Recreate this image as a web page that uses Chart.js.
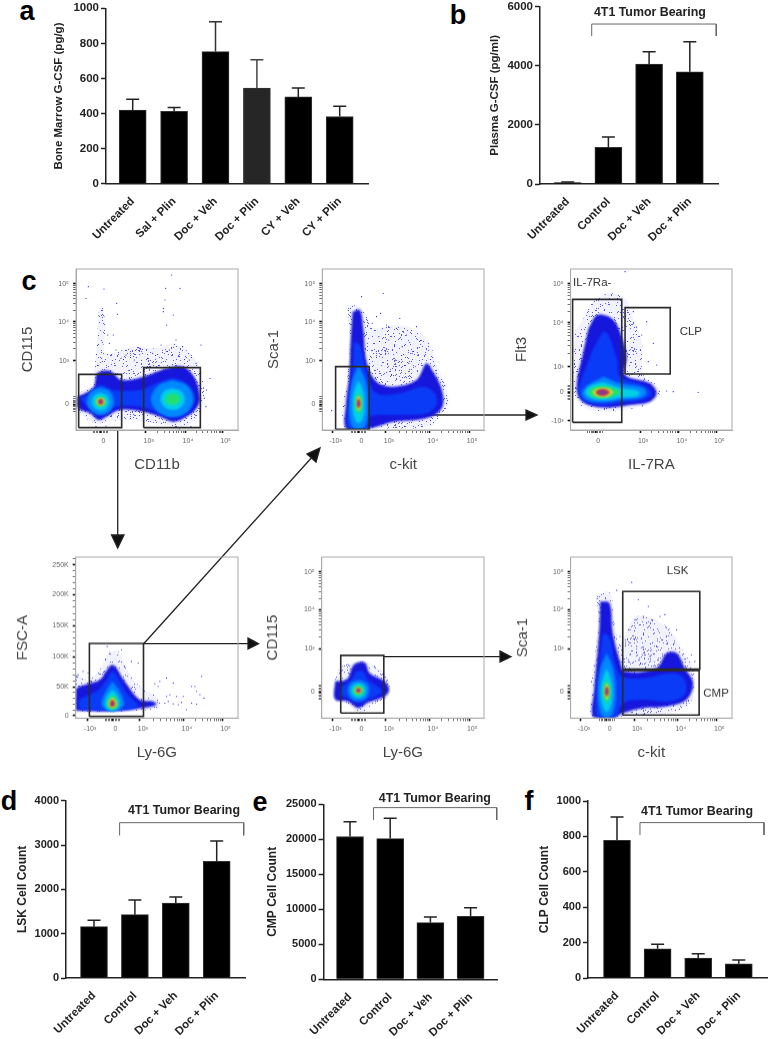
<!DOCTYPE html>
<html>
<head>
<meta charset="utf-8">
<title>G-CSF and progenitor panels</title>
<script src="https://cdn.jsdelivr.net/npm/chart.js@4"></script>
<style>
  body { margin: 0; background: #fff; font-family: "Liberation Sans", Arial, sans-serif; }
  #page { position: relative; width: 769px; height: 1039px; overflow: hidden; }
  canvas { position: absolute; }
  .letter { position: absolute; font-weight: bold; font-size: 27px; line-height: 27px; color: #000; transform: translate(-50%, -50%); }
  svg { position: absolute; left: 0; top: 0; pointer-events: none; }
</style>
</head>
<body>
<div id="page">
  <div class="letter" style="left:27px;top:11px">a</div>
  <div class="letter" style="left:458px;top:15px">b</div>
  <div class="letter" style="left:29px;top:281px">c</div>
  <div class="letter" style="left:9px;top:801px">d</div>
  <div class="letter" style="left:260px;top:802px">e</div>
  <div class="letter" style="left:529px;top:801px">f</div>
  <svg width="769" height="1039">
    <g stroke="#222" stroke-width="1.3" fill="#111">
      <line x1="117.7" y1="430" x2="117.7" y2="536"/><path d="M111.5 535 L124 535 L117.7 548 Z"/>
      <line x1="143.7" y1="643.7" x2="314" y2="455"/><path d="M307 454 L316 462 L320 448 Z"/>
      <line x1="143.7" y1="643.7" x2="250" y2="643.7"/><path d="M248 638 L248 649 L258.5 643.7 Z"/>
      <line x1="384" y1="656.7" x2="502" y2="656.7"/><path d="M500 651 L500 662 L511 656.7 Z"/>
      <line x1="369" y1="415" x2="528" y2="415"/><path d="M526 410 L526 420 L537 415 Z"/>
    </g>
  </svg>
</div>
<script>
// bar panels
const aCategories = ["Untreated", "Sal + Plin", "Doc + Veh", "Doc + Plin", "CY + Veh", "CY + Plin"];
const aValues = [420, 412, 753, 545, 495, 383];
const aErrTops = [481, 435, 923, 706, 545, 441];

const tumorCategories = ["Untreated", "Control", "Doc + Veh", "Doc + Plin"];
const bValues = [50, 1240, 4060, 3800];
const bErrTops = [70, 1590, 4477, 4815];
const dValues = [1158, 1429, 1692, 2632];
const dErrTops = [1301, 1759, 1827, 3090];
const eValues = [20400, 20100, 8100, 9000];
const eErrTops = [22500, 23000, 8905, 10238];
const fValues = [778, 165, 112, 80];
const fErrTops = [910, 190, 137, 102];

// flow panels: values are display channels (0-486 across, 0-483 up), outlines as x,y pairs
const c1XTicks = [73, 209, 327, 440];
const c1XLabels = ["0", "10³", "10⁴", "10⁵"];
const c1YTicks = [78, 208, 325, 438];
const stdYLabels = ["0", "10³", "10⁴", "10⁵"];
const c1Fringe = [4,100, 22,120, 52,135, 57,195, 64,285, 70,365, 80,370, 88,305, 84,235, 107,230, 172,250, 242,245, 292,260, 342,230, 372,185, 384,115, 377,65, 352,25, 302,5, 272,15, 212,25, 142,30, 92,25, 57,20, 12,55];
const c1Dense = [4,100, 27,110, 54,130, 64,170, 102,177, 137,150, 202,160, 272,185, 322,190, 357,155, 372,95, 362,65, 332,40, 292,25, 252,40, 202,55, 132,60, 92,40, 67,30, 42,50, 7,65];
const c1Bright = [12,95, 42,110, 72,135, 112,120, 192,120, 242,140, 292,155, 337,135, 357,95, 337,55, 292,40, 242,55, 192,70, 122,70, 77,50, 37,70];
const c1LeftSky = [74,128, 102,116, 114,85, 102,56, 74,44, 46,56, 32,85, 46,116];
const c1LeftCyan = [74,112, 92,104, 100,85, 92,66, 74,58, 56,66, 48,85, 56,104];
const c1LeftGreen = [74,101, 85,96, 90,85, 85,74, 74,69, 63,74, 58,85, 63,96];
const c1LeftYellow = [74,97, 83,93, 86,85, 83,77, 74,73, 65,77, 62,85, 65,93];
const c1LeftRed = [74,94, 80,91, 82,85, 80,79, 74,76, 68,79, 66,85, 68,91];
const c1LeftCore = [74,92, 78,89, 80,85, 78,81, 74,78, 70,81, 68,85, 70,89];
const c1RightSky = [290,150, 335,132, 352,92, 335,55, 290,38, 245,55, 225,92, 245,132];
const c1RightCyan = [290,125, 316,116, 326,92, 316,70, 290,60, 264,70, 254,92, 264,116];
const c1RightGreen = [290,110, 306,105, 312,92, 306,80, 290,75, 274,80, 268,92, 274,105];
const c1Dots = [37,430, 84,423, 30,395, 287,465, 269,425, 312,425, 267,390, 262,355, 292,345, 272,315, 122,380, 124,347, 112,285, 402,155, 392,120, 375,255, 262,365, 120,240, 150,225, 190,245, 215,215, 255,255, 280,240, 310,220, 340,210, 360,200, 100,260, 95,285, 135,215, 175,210, 230,230, 300,270, 320,250, 385,95, 390,70, 345,10, 310,3, 60,10, 90,12];
const c1GateLeft = [8,7, 137,7, 137,167, 8,167];
const c1GateRight = [203,7, 373,7, 373,187, 203,187];

const c2XTicks = [31, 109, 191, 323, 441];
const c2XLabels = ["-10³", "0", "10³", "10⁴", "10⁵"];
const c2Fringe = [75,375, 113,370, 138,335, 153,305, 213,315, 283,300, 323,260, 343,195, 373,125, 378,75, 353,45, 333,15, 283,5, 213,5, 143,3, 71,3, 61,75, 75,155, 83,275];
const c2Dense = [91,355, 113,360, 123,305, 133,205, 163,145, 213,130, 283,150, 313,200, 333,175, 358,125, 363,75, 338,45, 283,30, 213,25, 143,5, 73,3, 71,75, 81,165, 85,265];
const c2Bright = [95,265, 113,255, 135,165, 163,110, 233,110, 303,130, 338,110, 343,75, 313,50, 233,45, 143,40, 138,3, 78,3, 81,95, 91,185];
const c2Sky = [109,195, 131,145, 138,80, 131,15, 109,0, 87,15, 81,80, 89,145];
const c2Cyan = [109,150, 123,115, 127,78, 123,40, 109,20, 95,40, 91,78, 95,115];
const c2Green = [109,112, 116,100, 119,80, 116,60, 109,48, 102,60, 99,80, 102,100];
const c2Yellow = [109,102, 114,95, 116,80, 114,65, 109,58, 104,65, 102,80, 104,95];
const c2Red = [109,96, 113,90, 114,80, 113,70, 109,64, 105,70, 104,80, 105,90];
const c2Core = [109,91, 112,87, 113,80, 112,73, 109,69, 106,73, 105,80, 106,87];
const c2Dots = [183,410, 118,400, 163,340, 233,335, 193,315, 223,305, 253,285, 283,310, 28,58, 170,280, 200,270, 240,250, 270,230, 190,230, 220,210, 260,200, 150,320, 175,350];
const c2Gate = [40,2, 141,2, 141,190, 40,190];

const c3XTicks = [74, 209, 326, 439];
const c3YTicks = [28, 113, 190, 322, 438];
const c3YLabels = ["-10³", "0", "10³", "10⁴", "10⁵"];
const c3Fringe = [34,325, 69,385, 119,410, 164,395, 184,345, 214,265, 219,165, 259,135, 269,110, 244,80, 189,65, 119,55, 59,60, 24,80, 9,125, 9,215, 14,295];
const c3Dense = [54,305, 81,345, 129,330, 159,265, 169,215, 164,165, 239,140, 259,110, 239,85, 179,75, 109,67, 54,75, 24,100, 19,145, 34,215];
const c3Bright = [64,235, 104,295, 139,215, 149,160, 219,135, 244,110, 219,90, 159,83, 99,75, 44,85, 24,110, 34,155, 49,195];
const c3Sky = [99,160, 149,140, 219,127, 229,110, 209,95, 149,90, 99,83, 49,90, 34,110, 49,133];
const c3Cyan = [99,143, 149,127, 204,117, 204,103, 149,97, 99,90, 59,97, 44,112, 59,132];
const c3Green = [94,133, 124,127, 154,113, 124,100, 94,95, 64,100, 54,113, 64,127];
const c3Yellow = [96,127, 117,123, 127,113, 117,103, 96,99, 77,103, 67,113, 77,123];
const c3Red = [96,124, 112,120, 119,113, 112,106, 96,102, 81,106, 74,113, 81,120];
const c3Core = [96,121, 107,118, 112,113, 107,108, 96,105, 85,108, 80,113, 85,118];
const c3Dots = [164,475, 384,113, 309,115, 289,117, 229,325, 249,260, 234,205, 259,195, 189,355, 214,285];
const c3GateNeg = [6,23, 154,23, 154,392, 6,392];
const c3GateClp = [164,168, 300,168, 300,367, 164,367];

const c4XTicks = [34, 110, 192, 324, 440];
const c4YTicks = [7, 93, 184, 277, 370, 460];
const c4YLabels = ["0", "50K", "100K", "150K", "200K", "250K"];
const c4YMinors = [25, 43, 61, 79, 111, 129, 147, 165, 202, 221, 240, 258, 295, 314, 333, 351, 388, 406, 424, 442, 478];
const c4Fringe = [0,20, 0,130, 34,115, 72,145, 97,195, 127,200, 157,140, 192,95, 242,65, 252,35, 202,23, 112,19];
const c4Dense = [0,23, 0,85, 37,103, 72,115, 110,160, 147,110, 192,55, 232,50, 242,40, 202,30, 112,21];
const c4Bright = [10,27, 12,55, 62,80, 92,115, 110,140, 130,115, 157,70, 187,35, 112,23];
const c4Sky = [110,110, 132,80, 144,40, 122,23, 97,23, 77,40, 90,80];
const c4Cyan = [110,85, 127,65, 132,40, 122,25, 98,25, 88,40, 94,65];
const c4Green = [110,70, 122,57, 127,42, 119,29, 102,29, 94,42, 99,57];
const c4Yellow = [110,63, 119,53, 122,43, 117,32, 104,32, 98,43, 102,53];
const c4Red = [110,57, 116,49, 118,43, 115,35, 105,35, 102,43, 104,49];
const c4Core = [110,53, 114,48, 115,43, 113,38, 107,38, 105,43, 106,48];
const c4Dots = [272,65, 282,70, 267,45, 277,50, 292,43, 307,40, 322,65, 347,95, 357,95, 362,80, 377,125, 372,70, 384,60, 347,45, 362,42, 332,25, 292,105, 272,120, 237,103, 247,95, 252,110, 302,65, 317,47, 7,130, 22,140, 37,135, 94,215, 137,205, 167,170, 187,165];
const c4Gate = [41,5, 203,5, 203,224, 41,224];

const c5XTicks = [32, 110, 192, 324, 442];
const c5Fringe = [40,115, 54,150, 89,165, 134,168, 174,145, 199,115, 202,70, 184,55, 144,35, 114,10, 79,40, 40,55];
const c5Dense = [40,110, 76,117, 96,160, 129,167, 144,135, 189,110, 202,85, 189,65, 139,47, 109,30, 79,50, 40,57];
const c5Bright = [59,95, 89,115, 104,140, 124,140, 139,115, 174,90, 179,75, 139,57, 109,45, 79,60, 54,70];
const c5Sky = [110,115, 133,106, 142,83, 133,60, 110,51, 87,60, 78,83, 87,106];
const c5Cyan = [110,105, 126,99, 132,83, 126,67, 110,61, 94,67, 88,83, 94,99];
const c5Green = [110,98, 121,94, 125,83, 121,72, 110,68, 99,72, 95,83, 99,94];
const c5Yellow = [110,93, 117,90, 120,83, 117,76, 110,73, 103,76, 100,83, 103,90];
const c5Red = [110,90, 115,88, 117,83, 115,78, 110,76, 105,78, 103,83, 105,88];
const c5Core = [110,88, 114,87, 115,83, 114,79, 110,78, 106,79, 105,83, 106,87];
const c5Gate = [57,15, 186,15, 186,188, 57,188];

const c6XTicks = [31, 109, 191, 323, 439];
const c6Fringe = [77,370, 119,375, 131,295, 149,225, 199,305, 289,275, 329,215, 364,160, 374,105, 359,45, 299,15, 219,10, 159,5, 69,2, 59,65, 74,195, 84,295];
const c6Dense = [89,350, 117,345, 127,255, 149,170, 164,140, 259,150, 289,195, 319,195, 344,150, 369,105, 349,55, 289,35, 219,30, 159,15, 129,2, 69,2, 71,85, 81,195, 87,275];
const c6Bright = [97,255, 117,245, 134,165, 154,125, 219,120, 309,135, 344,115, 344,70, 299,50, 219,55, 159,45, 134,2, 81,2, 77,75, 87,165];
const c6Sky = [109,195, 128,150, 136,80, 128,15, 109,0, 90,15, 82,80, 90,150];
const c6Cyan = [109,150, 122,115, 127,80, 122,40, 109,18, 96,40, 91,80, 96,115];
const c6Green = [109,115, 116,100, 119,80, 116,58, 109,45, 102,58, 99,80, 102,100];
const c6Yellow = [109,104, 114,95, 116,80, 114,65, 109,56, 104,65, 102,80, 104,95];
const c6Red = [109,97, 113,90, 114,80, 113,70, 109,63, 105,70, 104,80, 105,90];
const c6Core = [109,92, 112,87, 113,80, 112,73, 109,68, 106,73, 105,80, 106,87];
const c6Dots = [184,407, 139,383, 204,355, 234,335, 194,295, 219,305, 229,285, 179,265, 249,265, 269,305, 284,310, 319,265, 199,215, 259,215, 179,190, 239,185, 364,190, 374,170, 149,245];
const c6GateLsk = [157,147, 389,147, 389,380, 157,380];
const c6GateCmp = [157,9, 387,9, 387,143, 157,143];

const stdYTicks = [78, 208, 325, 438];
const zeroBlob = [-22, -17, -12, -8, -4, 0, 4, 8, 12, 17, 22];
const levelColors = [null, "#1616dc", "#0a3cf8", "#0088ff", "#00d0e8", "#22e070", "#e6e622", "#d83c3c", "#7c3c94"];

const page = document.getElementById("page");

// grainy fill for the thin outer edge of a population
function speckle() {
  const size = 61;
  const tile = document.createElement("canvas");
  tile.width = tile.height = size;
  const ctx = tile.getContext("2d");
  ctx.fillStyle = "rgba(90,90,235,0.08)";
  ctx.fillRect(0, 0, size, size);
  ctx.fillStyle = "rgba(25,25,215,0.7)";
  for (let i = 1; i <= 300; i++) {
    ctx.fillRect(Math.floor((i * i * 0.0137 + i * 0.754877) % 1 * size), Math.floor((i * i * 0.0291 + i * 0.56984) % 1 * size), 1, 1);
  }
  return ctx.createPattern(tile, "repeat");
}
levelColors[0] = speckle();

function makeCanvas(box) {
  const canvas = document.createElement("canvas");
  canvas.width = box.width;
  canvas.height = box.height;
  canvas.style.left = box.left + "px";
  canvas.style.top = box.top + "px";
  canvas.style.width = box.width + "px";
  canvas.style.height = box.height + "px";
  page.appendChild(canvas);
  return canvas;
}

function pairs(flat) {
  const out = [];
  for (let i = 0; i < flat.length; i += 2) out.push({ x: flat[i], y: flat[i + 1] });
  return out;
}

// forces the plot area to the wanted place
function fixWidth(w) {
  return scale => { scale.width = w; scale.paddingLeft = scale.paddingRight = scale.paddingTop = scale.paddingBottom = 0; };
}
function fixHeight(h) {
  return scale => { scale.height = h; scale.paddingLeft = scale.paddingRight = scale.paddingTop = scale.paddingBottom = 0; };
}

const notesPlugin = {
  id: "notes",
  afterDraw(chart) {
    const notes = chart.config.options.noteList || [];
    const ctx = chart.ctx;
    ctx.save();
    ctx.textAlign = "center";
    ctx.textBaseline = "middle";
    notes.forEach(n => {
      ctx.font = n.font;
      ctx.fillStyle = n.color;
      ctx.fillText(n.text, chart.scales.x.getPixelForValue(n.x), chart.scales.y.getPixelForValue(n.y));
    });
    ctx.restore();
  }
};

const errorBars = {
  id: "errorBars",
  afterDatasetsDraw(chart) {
    const ctx = chart.ctx;
    const { x, y } = chart.scales;
    const ds = chart.data.datasets[0];
    ctx.save();
    ds.errTops.forEach((top, i) => {
      const px = x.getPixelForValue(i);
      const py = y.getPixelForValue(top);
      ctx.strokeStyle = ds.errColors ? ds.errColors[i] : "#222";
      ctx.lineWidth = 1.5;
      ctx.beginPath();
      ctx.moveTo(px, y.getPixelForValue(ds.data[i].y));
      ctx.lineTo(px, py);
      ctx.moveTo(px - 6.5, py);
      ctx.lineTo(px + 6.5, py);
      ctx.stroke();
    });
    ctx.restore();
  }
};

function barPanel(cfg) {
  const p = cfg.plot, box = cfg.box;
  const center = cfg.firstBar, gap = cfg.barGap;
  const datasets = [{
    type: "bar",
    data: cfg.values.map((v, i) => ({ x: i, y: v })),
    errTops: cfg.errTops,
    errColors: cfg.errColors,
    backgroundColor: cfg.barColors || "#000",
    borderColor: "#333",
    borderWidth: 1,
    barThickness: 27
  }];
  if (cfg.bracket) {
    const b = cfg.bracket;
    datasets.push({
      type: "line",
      data: [{ x: b[0], y: b[3] }, { x: b[0], y: b[2] }, { x: b[1], y: b[2] }, { x: b[1], y: b[3] }],
      borderColor: "#666",
      borderWidth: 1,
      pointRadius: 0,
      tension: 0,
      clip: false
    });
  }
  new Chart(makeCanvas(box), {
    data: { datasets },
    plugins: [errorBars, notesPlugin],
    options: {
      responsive: false,
      animation: false,
      noteList: cfg.note ? [{ text: "4T1 Tumor Bearing", x: cfg.note[0], y: cfg.note[1], font: "bold 12.4px 'Liberation Sans'", color: "#222" }] : [],
      layout: { padding: { top: p.top - box.top, right: box.left + box.width - p.right, left: 0, bottom: 0 } },
      plugins: { legend: { display: false }, tooltip: { enabled: false } },
      scales: {
        x: {
          type: "linear",
          offset: false,
          min: (p.left - center) / gap,
          max: (p.right - center) / gap,
          afterBuildTicks: s => { s.ticks = cfg.categories.map((c, i) => ({ value: i })); },
          afterFit: fixHeight(box.top + box.height - p.bottom),
          grid: { display: true, offset: false, drawOnChartArea: false, drawTicks: false },
          border: { color: "#222", width: 1.5 },
          ticks: {
            autoSkip: false, minRotation: 45, maxRotation: 45, padding: 11,
            color: "#222", font: { family: "Liberation Sans", weight: "bold", size: 11.5 },
            callback: v => cfg.categories[v] ?? ""
          }
        },
        y: {
          min: 0,
          max: cfg.yMax,
          afterFit: fixWidth(p.left - box.left),
          grid: { drawOnChartArea: false, tickLength: 5, tickColor: "#222", tickWidth: 1.5 },
          border: { color: "#222", width: 1.5 },
          title: { display: true, text: cfg.yTitle, padding: 0, color: "#222", font: { family: "Liberation Sans", weight: "bold", size: cfg.titleSize } },
          ticks: { stepSize: cfg.yStep, padding: 2, color: "#222", font: { family: "Liberation Sans", weight: "bold", size: cfg.tickSize }, callback: v => String(v) }
        }
      }
    }
  });
}

barPanel({
  box: { left: 52, top: 0, width: 320, height: 250 }, plot: { left: 106, top: 8.3, right: 368, bottom: 183.7 },
  firstBar: 132.7, barGap: 41.4, categories: aCategories, values: aValues, errTops: aErrTops,
  barColors: ["#000", "#000", "#000", "#262626", "#000", "#000"], errColors: ["#222", "#222", "#333", "#444", "#222", "#222"],
  yMax: 1000, yStep: 200, yTitle: "Bone Marrow G-CSF (pg/g)", titleSize: 11.5, tickSize: 11.5
});
barPanel({
  box: { left: 488, top: 0, width: 281, height: 250 }, plot: { left: 540, top: 6.7, right: 718, bottom: 184 },
  firstBar: 567.7, barGap: 40.7, categories: tumorCategories, values: bValues, errTops: bErrTops,
  yMax: 6000, yStep: 2000, yTitle: "Plasma G-CSF (pg/ml)", titleSize: 11.5, tickSize: 11.5,
  bracket: [0.59, 3.65, 5413, 5007], note: [2.02, 5797]
});
barPanel({
  box: { left: 15, top: 788, width: 235, height: 251 }, plot: { left: 66, top: 800.7, right: 245, bottom: 978 },
  firstBar: 94, barGap: 40.9, categories: tumorCategories, values: dValues, errTops: dErrTops,
  yMax: 4000, yStep: 1000, yTitle: "LSK Cell Count", titleSize: 12, tickSize: 11,
  bracket: [0.626, 3.66, 3504, 3218], note: [2.2, 3774]
});
barPanel({
  box: { left: 265, top: 788, width: 236, height: 251 }, plot: { left: 323.5, top: 804.3, right: 497.5, bottom: 979.3 },
  firstBar: 350, barGap: 40.2, categories: tumorCategories, values: eValues, errTops: eErrTops,
  yMax: 25000, yStep: 5000, yTitle: "CMP Cell Count", titleSize: 12, tickSize: 11,
  bracket: [0.585, 3.65, 24524, 22762], note: [2.11, 25757]
});
barPanel({
  box: { left: 537, top: 788, width: 232, height: 251 }, plot: { left: 588, top: 801, right: 767, bottom: 978 },
  firstBar: 617, barGap: 40.6, categories: tumorCategories, values: fValues, errTops: fErrTops,
  yMax: 1000, yStep: 200, yTitle: "CLP Cell Count", titleSize: 12, tickSize: 11,
  bracket: [0.566, 3.62, 878, 808], note: [1.97, 938]
});

// minor tick positions for a biexponential axis, decades above the labelled ticks
function logMinors(majors, zero) {
  const out = zeroBlob.map(d => zero + d);
  const steps = [2, 3, 4, 5, 6, 7, 8, 9].map(k => Math.log10(k));
  for (let i = 0; i < majors.length - 1; i++) {
    if (majors[i] <= zero) continue;
    const span = majors[i + 1] - majors[i];
    steps.forEach(s => out.push(majors[i] + s * span));
  }
  return out;
}

function axis(majors, labels, minors, extra, labelOffset) {
  const labelAt = new Map(majors.map((m, i) => [m, labels[i]]));
  return Object.assign({
    type: "linear",
    afterBuildTicks: s => {
      s.ticks = minors.filter(v => !labelAt.has(v)).map(v => ({ value: v })).concat(majors.map(v => ({ value: v, major: true })));
    },
    grid: {
      drawOnChartArea: false, tickLength: 3,
      tickColor: ctx => (ctx.tick && ctx.tick.major ? "#111" : "#333"),
      tickWidth: ctx => (ctx.tick && ctx.tick.major ? 1.6 : 0.7)
    },
    border: { color: "#aaa", width: 1 },
    ticks: {
      autoSkip: false, minRotation: 0, maxRotation: 0, padding: 4, color: "#666", labelOffset,
      font: { family: "Liberation Sans", size: 7 },
      callback: v => labelAt.get(v) ?? ""
    }
  }, extra);
}

const framePlugin = {
  id: "frame",
  afterDatasetDraw(chart, args) {
    const ds = chart.data.datasets[args.index];
    if (ds.blurNext) chart.ctx.filter = "blur(1px)";
    if (ds.lastBlurred) chart.ctx.filter = "none";
  },
  afterDatasetsDraw(chart) {
    chart.ctx.filter = "none";
    const a = chart.chartArea;
    chart.ctx.save();
    chart.ctx.strokeStyle = "#aaa";
    chart.ctx.lineWidth = 1;
    chart.ctx.strokeRect(a.left, a.top, a.right - a.left, a.bottom - a.top);
    chart.ctx.restore();
  }
};

function flowPanel(cfg) {
  const f = cfg.frame;
  const box = { left: cfg.left, top: f.top - 5, width: f.right + 4 - cfg.left, height: cfg.bottom - (f.top - 5) };
  const datasets = [];
  cfg.layers.forEach(([level, flat]) => {
    const pts = pairs(flat);
    pts.push(pts[0]);
    datasets.push({
      type: "line", data: pts, fill: "shape", backgroundColor: levelColors[level],
      borderWidth: 0, pointRadius: 0, tension: 0.35
    });
  });
  datasets[0].blurNext = true;
  datasets[datasets.length - 1].lastBlurred = true;
  if (cfg.dots) {
    datasets.push({ type: "scatter", data: pairs(cfg.dots), pointRadius: 0.6, pointBackgroundColor: "#1c1cd0", borderWidth: 0 });
  }
  cfg.gates.forEach(flat => {
    const pts = pairs(flat);
    pts.push(pts[0]);
    datasets.push({ type: "line", data: pts, fill: false, borderColor: "#2a2a2a", borderWidth: 1.6, pointRadius: 0, tension: 0 });
  });
  datasets.forEach((d, i) => { d.order = -i; });
  const titleFont = { family: "Liberation Sans", size: 15 };
  new Chart(makeCanvas(box), {
    data: { datasets },
    plugins: [framePlugin, notesPlugin],
    options: {
      responsive: false,
      animation: false,
      noteList: (cfg.notes || []).map(n => ({ text: n[0], x: n[1], y: n[2], font: "11.5px 'Liberation Sans'", color: "#333" })),
      layout: { padding: { top: f.top - box.top, right: box.left + box.width - f.right, left: 0, bottom: 0 } },
      plugins: { legend: { display: false }, tooltip: { enabled: false } },
      scales: {
        x: axis(cfg.xTicks, cfg.xLabels, logMinors(cfg.xTicks, cfg.xZero), {
          min: 0, max: 486,
          afterFit: fixHeight(box.top + box.height - f.bottom),
          title: { display: true, text: cfg.xTitle, padding: 0, color: "#444", font: titleFont }
        }, 3),
        y: axis(cfg.yTicks, cfg.yLabels, cfg.yMinors || logMinors(cfg.yTicks, cfg.yZero), {
          min: 0, max: 483,
          afterFit: fixWidth(f.left - box.left),
          title: { display: true, text: cfg.yTitle, padding: 0, color: "#444", font: titleFont }
        }, 0)
      }
    }
  });
}

flowPanel({
  left: 19, bottom: 474, frame: { left: 76, right: 238, top: 269, bottom: 430 },
  xTitle: "CD11b", yTitle: "CD115", xTicks: c1XTicks, xLabels: c1XLabels, xZero: 73, yTicks: c1YTicks, yLabels: stdYLabels, yZero: 78,
  layers: [[0, c1Fringe], [1, c1Dense], [2, c1Bright], [3, c1RightSky], [4, c1RightCyan], [5, c1RightGreen], [3, c1LeftSky], [4, c1LeftCyan], [5, c1LeftGreen], [6, c1LeftYellow], [7, c1LeftRed], [8, c1LeftCore]],
  dots: c1Dots, gates: [c1GateLeft, c1GateRight]
});
flowPanel({
  left: 265, bottom: 474, frame: { left: 322.3, right: 484.3, top: 269, bottom: 430 },
  xTitle: "c-kit", yTitle: "Sca-1", xTicks: c2XTicks, xLabels: c2XLabels, xZero: 109, yTicks: stdYTicks, yLabels: stdYLabels, yZero: 78,
  layers: [[0, c2Fringe], [1, c2Dense], [2, c2Bright], [3, c2Sky], [4, c2Cyan], [5, c2Green], [6, c2Yellow], [7, c2Red], [8, c2Core]],
  dots: c2Dots, gates: [c2Gate]
});
flowPanel({
  left: 512.7, bottom: 474, frame: { left: 570.3, right: 732.3, top: 269, bottom: 430 },
  xTitle: "IL-7RA", yTitle: "Flt3", xTicks: c3XTicks, xLabels: c1XLabels, xZero: 74, yTicks: c3YTicks, yLabels: c3YLabels, yZero: 113,
  layers: [[0, c3Fringe], [1, c3Dense], [2, c3Bright], [3, c3Sky], [4, c3Cyan], [5, c3Green], [6, c3Yellow], [7, c3Red], [8, c3Core]],
  dots: c3Dots, gates: [c3GateNeg, c3GateClp], notes: [["IL-7Ra-", 65, 442], ["CLP", 362, 295]]
});
flowPanel({
  left: 14.3, bottom: 762, frame: { left: 76, right: 238.3, top: 557.3, bottom: 718.3 },
  xTitle: "Ly-6G", yTitle: "FSC-A", xTicks: c4XTicks, xLabels: c2XLabels, xZero: 110, yTicks: c4YTicks, yLabels: c4YLabels, yMinors: c4YMinors,
  layers: [[0, c4Fringe], [1, c4Dense], [2, c4Bright], [3, c4Sky], [4, c4Cyan], [5, c4Green], [6, c4Yellow], [7, c4Red], [8, c4Core]],
  dots: c4Dots, gates: [c4Gate]
});
flowPanel({
  left: 264.3, bottom: 762, frame: { left: 322, right: 484.3, top: 557.3, bottom: 718.3 },
  xTitle: "Ly-6G", yTitle: "CD115", xTicks: c5XTicks, xLabels: c2XLabels, xZero: 110, yTicks: stdYTicks, yLabels: stdYLabels, yZero: 78,
  layers: [[0, c5Fringe], [1, c5Dense], [2, c5Bright], [3, c5Sky], [4, c5Cyan], [5, c5Green], [6, c5Yellow], [7, c5Red], [8, c5Core]],
  gates: [c5Gate]
});
flowPanel({
  left: 513.7, bottom: 762, frame: { left: 570.3, right: 732.3, top: 557.3, bottom: 718.3 },
  xTitle: "c-kit", yTitle: "Sca-1", xTicks: c6XTicks, xLabels: c2XLabels, xZero: 109, yTicks: stdYTicks, yLabels: stdYLabels, yZero: 78,
  layers: [[0, c6Fringe], [1, c6Dense], [2, c6Bright], [3, c6Sky], [4, c6Cyan], [5, c6Green], [6, c6Yellow], [7, c6Red], [8, c6Core]],
  dots: c6Dots, gates: [c6GateLsk, c6GateCmp], notes: [["LSK", 322, 442], ["CMP", 438, 74]]
});
</script>
</body>
</html>
